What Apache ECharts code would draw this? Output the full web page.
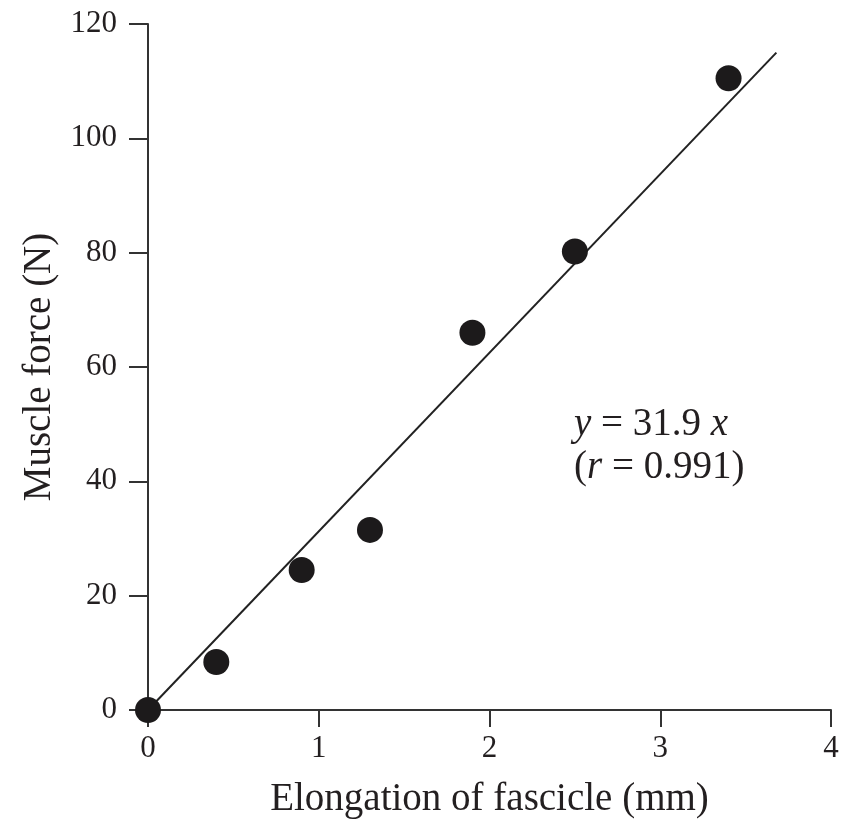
<!DOCTYPE html>
<html>
<head>
<meta charset="utf-8">
<script src="https://cdn.jsdelivr.net/npm/echarts@6/dist/echarts.min.js"></script>
<style>html,body{margin:0;padding:0;background:#fff;}#c{width:853px;height:826px;}</style>
</head>
<body>
<div id="c"></div>
<script>
const elongation = [0, 0.4, 0.9, 1.3, 1.9, 2.5, 3.4];
const force = [0, 8.4, 24.5, 31.5, 66, 80.2, 110.5];
const fitX = [0, 3.68];
const fitY = [0, 115];
const xTicks = [0, 1, 2, 3, 4];
const yTicks = [0, 20, 40, 60, 80, 100, 120];

const chart = echarts.init(document.getElementById('c'));
const serif = 'Liberation Serif';
const ink = '#231f20';
chart.setOption({
  animation: false,
  grid: { left: 148, right: 22, top: 24, bottom: 116, containLabel: false },
  xAxis: {
    type: 'value', min: xTicks[0], max: xTicks[xTicks.length - 1], interval: xTicks[1] - xTicks[0],
    name: 'Elongation of fascicle (mm)', nameLocation: 'middle', nameGap: 70,
    nameTextStyle: { fontFamily: serif, fontSize: 39, color: ink },
    axisLine: { show: true, onZero: false, lineStyle: { color: '#333', width: 2 } },
    axisTick: { show: true, length: 17, lineStyle: { color: '#333', width: 2 } },
    axisLabel: { fontFamily: serif, fontSize: 31, color: ink, margin: 23 },
    splitLine: { show: false }
  },
  yAxis: {
    type: 'value', min: yTicks[0], max: yTicks[yTicks.length - 1], interval: yTicks[1] - yTicks[0],
    name: 'Muscle force (N)', nameLocation: 'middle', nameGap: 88,
    nameTextStyle: { fontFamily: serif, fontSize: 39, color: ink },
    axisLine: { show: true, onZero: false, lineStyle: { color: '#333', width: 2 } },
    axisTick: { show: true, length: 19, lineStyle: { color: '#333', width: 2 } },
    axisLabel: { fontFamily: serif, fontSize: 31, color: ink, margin: 31 },
    splitLine: { show: false }
  },
  series: [
    {
      type: 'line', data: fitX.map((x, i) => [x, fitY[i]]),
      symbol: 'none', lineStyle: { color: '#222', width: 2 }, z: 2
    },
    {
      type: 'scatter', data: elongation.map((x, i) => [x, force[i]]),
      symbolSize: 26, itemStyle: { color: '#1c1a1b', opacity: 1 }, z: 3
    }
  ],
  graphic: [
    {
      type: 'text', left: 574, top: 403,
      style: {
        text: '{i|y}{n| = 31.9 }{i|x}\n{n|(}{i|r}{n| = 0.991)}',
        fontFamily: serif, fontSize: 39, fill: ink, lineHeight: 43,
        rich: {
          i: { fontStyle: 'italic', fontFamily: serif, fontSize: 39, fill: ink, lineHeight: 43 },
          n: { fontStyle: 'normal', fontFamily: serif, fontSize: 39, fill: ink, lineHeight: 43 }
        }
      }
    }
  ]
});
</script>
</body>
</html>
